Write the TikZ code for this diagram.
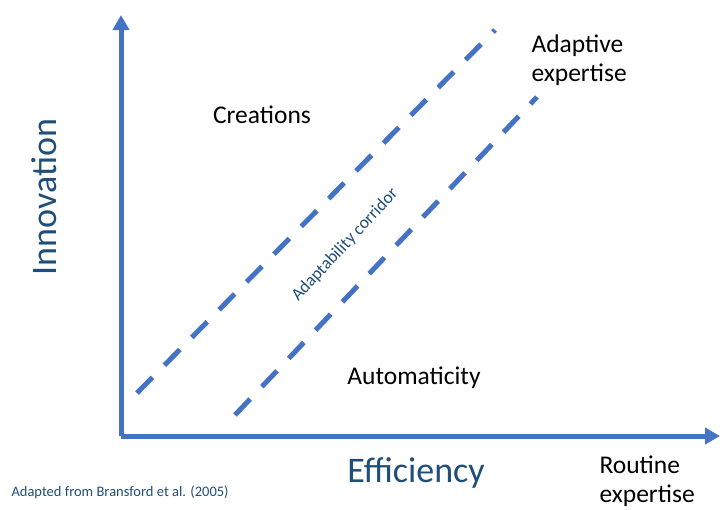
\documentclass[tikz,border=0pt]{standalone}
\usepackage{fontspec}
\setmainfont{Carlito}
\usetikzlibrary{arrows.meta}
\definecolor{axis_blue}{HTML}{4472C4}
\definecolor{text_blue}{HTML}{1F4E79}

\begin{document}
\begin{tikzpicture}[x=1pt, y=-1pt,
    axisline/.style={line width=5pt, axis_blue, -{Triangle[length=15pt,width=16pt]}},
    corridor/.style={line width=5pt, axis_blue, dash pattern=on 22pt off 17pt},
    biglabel/.style={text_blue, font=\fontsize{36}{40}\selectfont},
    region/.style={font=\fontsize{25.5}{29}\selectfont, align=left}]
      \useasboundingbox (0,0) rectangle (720,509);
      % Axes
      \coordinate (origin) at (121,436);
      \coordinate (ytop) at (121,15);
      \coordinate (xend) at (720,436);
      \draw[axisline] (origin) -- (ytop);
      \draw[axisline] (origin) -- (xend);
      % Corridor borders
      \coordinate (upperstart) at (137,393);
      \coordinate (upperend) at (495,30);
      \coordinate (lowerstart) at (235,415);
      \coordinate (lowerend) at (537,97);
      \draw[corridor] (upperstart) -- (upperend);
      \draw[corridor] (lowerstart) -- (lowerend);
      % Axis labels
      \node[biglabel, rotate=90] (innovation) at (44,197) {Innovation};
      \node[biglabel] (efficiency) at (416,473) {Efficiency};
      % Region labels
      \node[region] (creations) at (262,115) {Creations};
      \node[region] (automaticity) at (414,378) {Automaticity};
      \node[region, anchor=west] (adaptive) at (528,60) {Adaptive\\expertise};
      \node[region, anchor=west] (routine) at (596,481) {Routine\\expertise};
      \node[text_blue, rotate=47, font=\fontsize{17.5}{19}\selectfont] (corridorlabel) at (345,245) {Adaptability corridor};
      % Source
      \node[text_blue, anchor=west, font=\fontsize{14.5}{16}\selectfont] (source) at (8,492) {Adapted from Bransford et al. (2005)};
\end{tikzpicture}
\end{document}
